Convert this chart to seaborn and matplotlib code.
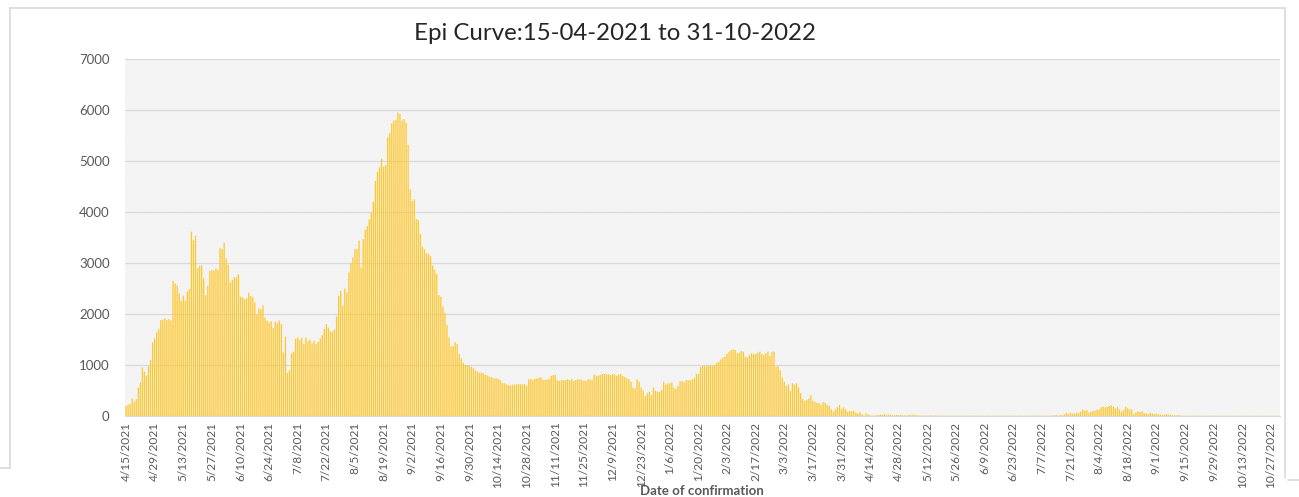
import numpy as np
import pandas as pd
import matplotlib
matplotlib.use("Agg")
import matplotlib.pyplot as plt
from matplotlib.patches import Rectangle
from matplotlib.lines import Line2D
import seaborn as sns

# daily confirmed cases, 15-04-2021 .. 31-10-2022 (one row = two weeks)
start_date = "2021-04-15"
end_date = "2022-10-31"
cases = [
    200, 215, 235, 346, 280, 330, 555, 660, 950, 870, 790, 980, 1100, 1445,
    1520, 1640, 1705, 1880, 1895, 1915, 1880, 1900, 1870, 2650, 2600, 2555, 2405, 2260,
    2360, 2260, 2440, 2490, 3615, 3440, 3535, 2895, 2940, 2955, 2700, 2370, 2550, 2840,
    2860, 2850, 2895, 2860, 3290, 3270, 3400, 3090, 2960, 2620, 2670, 2720, 2720, 2780,
    2340, 2330, 2290, 2310, 2420, 2350, 2330, 2230, 1990, 2110, 2090, 2170, 1930, 1870,
    1830, 1860, 1720, 1850, 1830, 1870, 1800, 1240, 1555, 850, 900, 1230, 1260, 1515,
    1540, 1490, 1540, 1410, 1535, 1470, 1500, 1425, 1475, 1410, 1455, 1520, 1590, 1710,
    1800, 1730, 1655, 1655, 1700, 1950, 2350, 2455, 2165, 2500, 2420, 2810, 2990, 3110,
    3270, 3275, 3440, 2910, 3465, 3650, 3725, 3855, 3990, 4200, 4610, 4790, 4875, 5045,
    4890, 4920, 5465, 5540, 5740, 5790, 5805, 5950, 5920, 5790, 5820, 5750, 5315, 4445,
    4215, 4250, 3855, 3845, 3570, 3320, 3270, 3190, 3175, 3125, 2950, 2860, 2785, 2370,
    2340, 2145, 2025, 1785, 1540, 1360, 1370, 1445, 1410, 1215, 1130, 1045, 1000, 1000,
    980, 965, 935, 890, 870, 850, 850, 835, 805, 790, 770, 760, 740, 740,
    725, 705, 655, 640, 620, 610, 595, 610, 615, 620, 625, 620, 620, 625,
    595, 720, 725, 705, 730, 740, 750, 760, 705, 705, 720, 725, 785, 805,
    805, 705, 690, 705, 705, 705, 720, 705, 720, 685, 705, 720, 720, 705,
    690, 685, 720, 720, 705, 815, 790, 790, 805, 825, 825, 825, 815, 805,
    825, 815, 790, 815, 825, 785, 760, 740, 720, 675, 555, 540, 720, 675,
    560, 495, 390, 445, 475, 410, 560, 495, 475, 475, 510, 675, 610, 640,
    640, 655, 555, 530, 590, 685, 685, 660, 705, 705, 705, 720, 740, 825,
    825, 965, 980, 980, 985, 985, 985, 985, 1000, 1045, 1065, 1110, 1150, 1165,
    1215, 1260, 1295, 1305, 1295, 1230, 1240, 1275, 1260, 1165, 1150, 1195, 1230, 1215,
    1215, 1240, 1260, 1215, 1195, 1230, 1260, 1175, 1260, 1260, 965, 980, 900, 750,
    675, 590, 620, 495, 640, 610, 640, 560, 445, 335, 295, 315, 345, 410,
    300, 275, 260, 250, 215, 270, 260, 215, 205, 130, 85, 130, 170, 215,
    137, 165, 130, 85, 98, 98, 105, 65, 52, 72, 33, 7, 52, 33,
    13, 5, 7, 13, 20, 26, 20, 40, 13, 26, 26, 13, 13, 20,
    20, 20, 13, 13, 7, 20, 13, 26, 20, 13, 7, 7, 10, 7,
    5, 10, 7, 5, 8, 6, 5, 7, 5, 6, 4, 7, 5, 3,
    4, 6, 5, 3, 7, 4, 5, 6, 3, 5, 4, 6, 5, 4,
    3, 5, 6, 4, 5, 3, 6, 4, 5, 7, 4, 3, 5, 6,
    4, 5, 3, 6, 5, 4, 7, 5, 6, 4, 8, 6, 5, 7,
    5, 4, 6, 3, 8, 7, 12, 20, 7, 20, 13, 33, 65, 40,
    65, 46, 52, 65, 52, 85, 130, 105, 118, 65, 85, 98, 105, 118,
    130, 170, 183, 170, 183, 196, 210, 183, 150, 183, 130, 85, 118, 183,
    150, 130, 130, 40, 72, 85, 78, 98, 52, 52, 40, 65, 52, 33,
    46, 33, 26, 20, 26, 33, 26, 26, 13, 13, 13, 20, 7, 6,
    5, 4, 6, 3, 5, 4, 6, 3, 4, 5, 3, 4, 6, 3,
    4, 3, 5, 4, 3, 5, 4, 3, 4, 5, 3, 4, 3, 5,
    4, 3, 4, 5, 3, 4, 3, 4, 5, 3, 4, 3, 4, 3,
    4, 3, 4, 3, 4,
]
yticks = [0, 1000, 2000, 3000, 4000, 5000, 6000, 7000]
title = "Epi Curve:15-04-2021 to 31-10-2022"
xlabel = "Date of confirmation"

dates = pd.date_range(start_date, end_date, freq="D")
df = pd.DataFrame({"date": dates[:len(cases)], "cases": cases})
df["label"] = [f"{d.month}/{d.day}/{d.year}" for d in df["date"]]

sns.set_style("white")
plt.rcParams["font.family"] = ["Lato", "DejaVu Sans"]
plt.rcParams["hatch.color"] = "#e8e8e8"
plt.rcParams["hatch.linewidth"] = 0.4

fig = plt.figure(figsize=(12.99, 4.97), dpi=100)
ax = fig.add_axes([125 / 1299, 1 - 416 / 497, (1280 - 125) / 1299, (416 - 59) / 497])

# finely hatched plot area like the Excel chart
ax.add_patch(Rectangle((0, 0), 1, 1, transform=ax.transAxes, facecolor="white",
                       edgecolor="#e8e8e8", hatch="\\" * 20, linewidth=0, zorder=0))

sns.barplot(data=df, x="label", y="cases", color="#FFC72C", width=0.62,
            linewidth=0, saturation=1, ax=ax, zorder=3)
for p in ax.patches[1:]:
    p.set_snap(False)

ax.set_xlim(-0.5, len(df) - 0.5)
ax.set_ylim(0, 7000)
ax.set_yticks(yticks)
ax.set_yticklabels([str(v) for v in yticks])
tick_pos = list(range(0, len(df), 14))
ax.set_xticks(tick_pos)
ax.set_xticklabels(df["label"].iloc[tick_pos], rotation=90)
ax.tick_params(axis="both", colors="#595959", length=0)
ax.tick_params(axis="y", labelsize=9.5, pad=11)
ax.tick_params(axis="x", labelsize=8.6, pad=4)
ax.set_xlabel("")
ax.set_ylabel("")
ax.yaxis.grid(True, color="#d9d9d9", linewidth=0.9, zorder=1)
ax.set_axisbelow(True)
for side in ["left", "right", "top"]:
    ax.spines[side].set_visible(False)
ax.spines["bottom"].set_color("#d9d9d9")

fig.text(615 / 1299, 1 - 34 / 497, title, ha="center", va="center",
         fontsize=17.3, color="#262626")
fig.text(702 / 1299, 1 - 491 / 497, xlabel, ha="center", va="center",
         fontsize=9.5, fontweight="bold", color="#595959")

# chart frame
fc = "#d9d9d9"
for xs, ys in [((10, 10), (8, 468)), ((10, 1285), (8, 8)), ((1285, 1285), (8, 478)),
               ((0, 10), (468, 468)), ((1288, 1299), (480, 480))]:
    fig.add_artist(Line2D([x / 1299 for x in xs], [1 - y / 497 for y in ys],
                          color=fc, linewidth=1.2))

fig.savefig("out.png", dpi=100)
